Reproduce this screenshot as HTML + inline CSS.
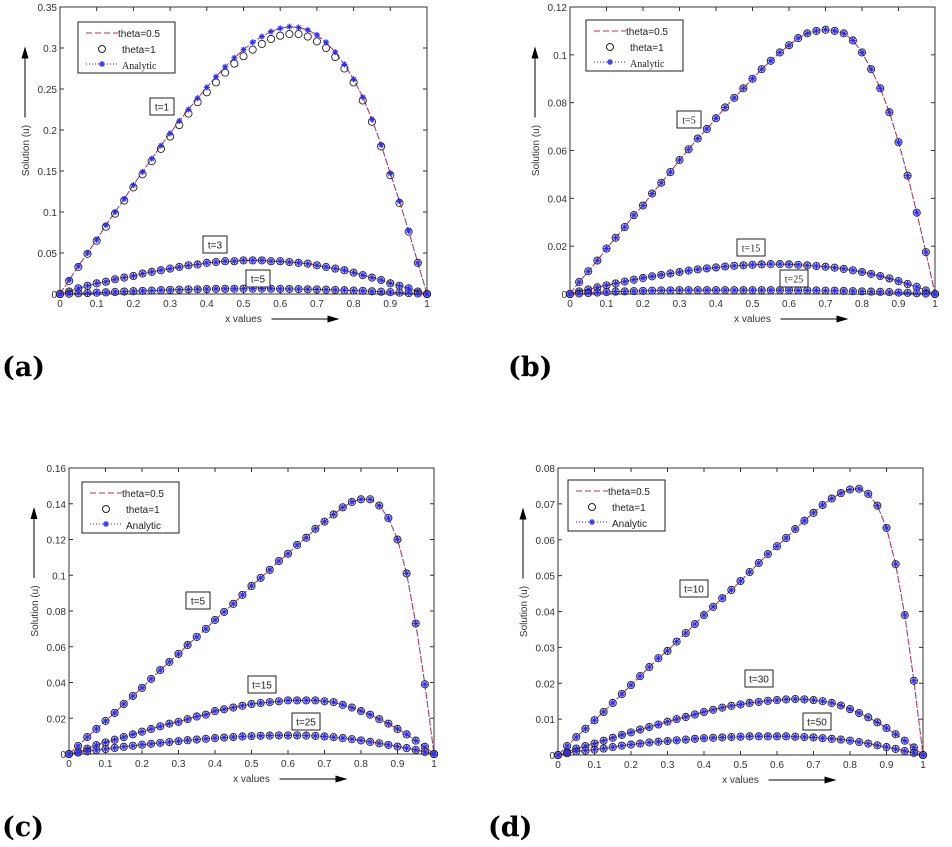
<!DOCTYPE html>
<html><head><meta charset="utf-8"><style>
body{margin:0;background:#fff;width:952px;height:847px;overflow:hidden;font-family:"Liberation Sans",sans-serif}
svg{position:absolute;left:0;top:0}
.pl{position:absolute;font-family:"DejaVu Serif","Liberation Serif",serif;font-weight:bold;font-size:27px;color:#000}
</style></head><body>
<svg id="chart" width="952" height="847"></svg>
<div class="pl" style="left:2px;top:352px">(a)</div>
<div class="pl" style="left:508px;top:352px">(b)</div>
<div class="pl" style="left:2px;top:812px">(c)</div>
<div class="pl" style="left:488px;top:812px">(d)</div>
<script>
const xCats=[0,.025,.05,.075,.1,.125,.15,.175,.2,.225,.25,.275,.3,.325,.35,.375,.4,.425,.45,.475,.5,.525,.55,.575,.6,.625,.65,.675,.7,.725,.75,.775,.8,.825,.85,.875,.9,.925,.95,.975,1];
const xTicks=[0,.1,.2,.3,.4,.5,.6,.7,.8,.9,1];
const xTickLabels=["0","0.1","0.2","0.3","0.4","0.5","0.6","0.7","0.8","0.9","1"];
// panel a
const aT1=[0,.017,.034,.05,.066,.084,.1,.116,.133,.149,.165,.181,.196,.211,.225,.239,.252,.265,.277,.288,.298,.307,.314,.32,.324,.326,.325,.322,.316,.307,.295,.28,.262,.24,.213,.182,.147,.113,.077,.038,0];
const aT1Theta1=[0,.016,.033,.049,.065,.082,.098,.114,.13,.146,.162,.177,.192,.206,.22,.234,.246,.258,.27,.281,.29,.298,.305,.311,.315,.317,.317,.314,.308,.3,.289,.275,.258,.236,.21,.18,.145,.111,.076,.038,0];
const aT3=[0,.003,.007,.01,.013,.015,.018,.02,.022,.025,.027,.029,.031,.033,.035,.036,.038,.039,.04,.04,.041,.041,.041,.04,.04,.039,.038,.037,.035,.033,.031,.029,.026,.023,.02,.017,.013,.01,.007,.003,0];
const aT5=[0,.0003,.0008,.0012,.0016,.002,.0025,.003,.0034,.0038,.0042,.0046,.005,.0053,.0056,.0058,.006,.0062,.0063,.0064,.0065,.0065,.0065,.0064,.0063,.0062,.006,.0058,.0056,.0053,.005,.0046,.0042,.0038,.0033,.0028,.0022,.0017,.0011,.0006,0];
const aYTicks=[0,.05,.1,.15,.2,.25,.3,.35];
const aYLabels=["0","0.05","0.1","0.15","0.2","0.25","0.3","0.35"];
// panel b
const bT5=[0,.005,.0095,.014,.019,.0235,.028,.033,.037,.042,.0465,.051,.056,.0605,.065,.069,.0735,.078,.082,.086,.09,.094,.0975,.101,.104,.107,.109,.11,.1105,.11,.109,.106,.101,.094,.086,.076,.0635,.0495,.034,.0175,0];
const bT15=[0,.0011,.0019,.0028,.0036,.0044,.0052,.006,.0067,.0074,.008,.0086,.0092,.0098,.0103,.0107,.0111,.0115,.0118,.012,.0122,.0124,.0125,.0125,.0124,.0122,.012,.0117,.0114,.011,.0105,.0099,.0092,.0084,.0075,.0065,.0054,.0042,.003,.0015,0];
const bT25=[0,.0002,.0004,.0006,.0008,.001,.0011,.0012,.0013,.0014,.0015,.0015,.0016,.0016,.0016,.0016,.0016,.0016,.0016,.0016,.0016,.0016,.0016,.0016,.0016,.0015,.0015,.0015,.0014,.0014,.0013,.0012,.0011,.001,.0009,.0008,.0006,.0005,.0003,.0002,0];
const bYTicks=[0,.02,.04,.06,.08,.1,.12];
const bYLabels=["0","0.02","0.04","0.06","0.08","0.1","0.12"];
// panel c
const cT5=[0,.0045,.0095,.014,.0185,.023,.028,.0325,.037,.042,.047,.0515,.056,.061,.0655,.07,.075,.0795,.084,.089,.094,.0985,.103,.108,.112,.117,.121,.126,.13,.134,.138,.141,.1425,.1425,.139,.132,.12,.101,.073,.039,0];
const cT15=[0,.001,.003,.005,.0065,.008,.0095,.011,.0125,.014,.0155,.017,.018,.0195,.021,.022,.024,.025,.026,.027,.028,.0285,.029,.0295,.03,.03,.03,.03,.0295,.029,.0275,.026,.024,.022,.0195,.017,.014,.011,.0075,.004,0];
const cT25=[0,.0008,.0015,.0022,.0028,.0034,.004,.0046,.0052,.0057,.0062,.0067,.0072,.0077,.0081,.0085,.0089,.0092,.0095,.0098,.01,.0102,.0103,.0104,.0104,.0104,.0103,.0101,.0098,.0094,.0089,.0083,.0076,.0068,.006,.0051,.0042,.0033,.0023,.0012,0];
const cYTicks=[0,.02,.04,.06,.08,.1,.12,.14,.16];
const cYLabels=["0","0.02","0.04","0.06","0.08","0.1","0.12","0.14","0.16"];
// panel d
const dT10=[0,.0025,.005,.0073,.0097,.012,.0145,.017,.0195,.022,.0245,.027,.029,.0316,.034,.0365,.039,.0413,.0437,.046,.0485,.051,.0535,.056,.0582,.0605,.063,.0653,.0675,.0697,.0715,.073,.074,.0742,.0728,.0695,.0633,.0532,.039,.0207,0];
const dT30=[0,.0008,.0018,.0025,.0032,.004,.0048,.0056,.0063,.0071,.0078,.0085,.0093,.01,.0106,.0113,.012,.0126,.0132,.0137,.0141,.0145,.0148,.0151,.0153,.0155,.0156,.0155,.0153,.015,.0145,.0138,.0128,.0117,.0105,.0091,.0075,.0058,.004,.0021,0];
const dT50=[0,.0005,.001,.0012,.0015,.0018,.0022,.0026,.0029,.0032,.0035,.0037,.0039,.0041,.0043,.0045,.0047,.0048,.0049,.005,.0051,.0052,.0052,.0052,.0052,.0052,.0051,.005,.0049,.0047,.0045,.0043,.004,.0036,.0032,.0027,.0022,.0017,.0011,.0006,0];
const dYTicks=[0,.01,.02,.03,.04,.05,.06,.07,.08];
const dYLabels=["0","0.01","0.02","0.03","0.04","0.05","0.06","0.07","0.08"];

const NS="http://www.w3.org/2000/svg";
const svg=document.getElementById('chart');
function mk(tag,attrs,parent){const e=document.createElementNS(NS,tag);for(const k in attrs)e.setAttribute(k,attrs[k]);(parent||svg).appendChild(e);return e;}

const panels=[
 {id:'a',x0:60,x1:427,yTop:7,yBot:294,ymax:.35,yt:aYTicks,yl:aYLabels,
  series:[{name:'t=1',v:aT1,c:aT1Theta1},{name:'t=3',v:aT3,c:aT3},{name:'t=5',v:aT5,c:aT5}],
  labels:[[150,98,'t=1'],[203,236,'t=3'],[246,270,'t=5']],legend:[78,22],serifLegend:true},
 {id:'b',x0:570,x1:935,yTop:7,yBot:294,ymax:.12,yt:bYTicks,yl:bYLabels,
  series:[{name:'t=5',v:bT5,c:bT5},{name:'t=15',v:bT15,c:bT15},{name:'t=25',v:bT25,c:bT25}],
  labels:[[677,111,'t=5'],[737,239,'t=15'],[780,270,'t=25']],legend:[586,20],serifLegend:true,serifLabels:true},
 {id:'c',x0:69,x1:434,yTop:468,yBot:754,ymax:.16,yt:cYTicks,yl:cYLabels,
  series:[{name:'t=5',v:cT5,c:cT5},{name:'t=15',v:cT15,c:cT15},{name:'t=25',v:cT25,c:cT25}],
  labels:[[186,592,'t=5'],[248,676,'t=15'],[292,713,'t=25']],legend:[82,482]},
 {id:'d',x0:558,x1:923,yTop:468,yBot:755,ymax:.08,yt:dYTicks,yl:dYLabels,
  series:[{name:'t=10',v:dT10,c:dT10},{name:'t=30',v:dT30,c:dT30},{name:'t=50',v:dT50,c:dT50}],
  labels:[[680,580,'t=10'],[745,670,'t=30'],[803,713,'t=50']],legend:[568,480]}
];

function star(g,x,y){
  const s=3;
  mk('line',{x1:x-s,y1:y,x2:x+s,y2:y,stroke:'#2a2aff','stroke-width':1.2},g);
  mk('line',{x1:x,y1:y-s,x2:x,y2:y+s,stroke:'#2a2aff','stroke-width':1.2},g);
  mk('line',{x1:x-2.1,y1:y-2.1,x2:x+2.1,y2:y+2.1,stroke:'#2a2aff','stroke-width':1},g);
  mk('line',{x1:x-2.1,y1:y+2.1,x2:x+2.1,y2:y-2.1,stroke:'#2a2aff','stroke-width':1},g);
}

panels.forEach(p=>{
  const X=v=>p.x0+v*(p.x1-p.x0);
  const Y=v=>p.yBot-v/p.ymax*(p.yBot-p.yTop);
  const g=mk('g',{});
  
  
  const box=mk('rect',{x:p.x0,y:p.yTop,width:p.x1-p.x0,height:p.yBot-p.yTop,fill:'none',stroke:'#333','stroke-width':1},g);
  
  
  xTicks.forEach((t,i)=>{
    const x=X(t);
    mk('line',{x1:x,y1:p.yBot,x2:x,y2:p.yBot-4,stroke:'#333'},g);
    mk('line',{x1:x,y1:p.yTop,x2:x,y2:p.yTop+4,stroke:'#333'},g);
    const tx=mk('text',{x:x,y:p.yBot+13,'font-size':10,'text-anchor':'middle',fill:'#333'},g);
    tx.textContent=xTickLabels[i];
    
    
  });
  p.yt.forEach((t,i)=>{
    const y=Y(t);
    mk('line',{x1:p.x0,y1:y,x2:p.x0+4,y2:y,stroke:'#333'},g);
    mk('line',{x1:p.x1,y1:y,x2:p.x1-4,y2:y,stroke:'#333'},g);
    const ty=mk('text',{x:p.x0-3,y:y+4,'font-size':10,'text-anchor':'end',fill:'#333'},g);
    ty.textContent=p.yl[i];
    
    
  });
  // axis titles
  const mid=(p.yTop+p.yBot)/2, tx0=p.x0-31, ax=p.x0-35;
  const yt=mk('text',{x:tx0,y:mid,'font-size':10,'text-anchor':'middle',fill:'#333',transform:`rotate(-90 ${tx0} ${mid})`},g);
  yt.textContent='Solution (u)';
  
  
  mk('line',{x1:ax,y1:mid-33,x2:ax,y2:mid-96,stroke:'#000','stroke-width':1},g);
  mk('path',{d:`M${ax-3.5} ${mid-92} L${ax} ${mid-104} L${ax+3.5} ${mid-92} Z`,fill:'#000'},g);
  const xm=(p.x0+p.x1)/2;
  const xt=mk('text',{x:xm,y:p.yBot+28,'font-size':10,'text-anchor':'middle',fill:'#333'},g);
  xt.textContent='x values';
  
  
  mk('line',{x1:xm+28,y1:p.yBot+25,x2:xm+92,y2:p.yBot+25,stroke:'#000'},g);
  mk('path',{d:`M${xm+84} ${p.yBot+21.5} L${xm+96} ${p.yBot+25} L${xm+84} ${p.yBot+28.5} Z`,fill:'#000'},g);
  // series
  p.series.forEach(s=>{
    const sg=mk('g',{},g);
    
    
    const pts=xCats.map((x,i)=>X(x).toFixed(2)+','+Y(s.v[i]).toFixed(2)).join(' ');
    mk('polyline',{points:pts,fill:'none',stroke:'#1a1aff','stroke-width':1,'stroke-dasharray':'1 2'},sg);
    mk('polyline',{points:pts,fill:'none',stroke:'#c0304a','stroke-width':1,'stroke-dasharray':'6 3'},sg);
    xCats.forEach((x,i)=>{
      const c=mk('circle',{cx:X(x),cy:Y(s.c[i]),r:3.6,fill:'none',stroke:'#222','stroke-width':0.9},sg);
      
      
    });
    xCats.forEach((x,i)=>star(sg,X(x),Y(s.v[i])));
  });
  // curve labels
  p.labels.forEach(l=>{
    const w=l[2].length>3?28:24;
    const lb=mk('g',{},g);
    
    
    mk('rect',{x:l[0],y:l[1],width:w,height:17,fill:'#fff',stroke:'#222','stroke-width':1},lb);
    const t=mk('text',{x:l[0]+w/2,y:l[1]+12.5,'font-size':10,'text-anchor':'middle',fill:'#222','font-family':p.serifLabels?'Liberation Serif, serif':'Liberation Sans, sans-serif'},lb);
    t.textContent=l[2];
  });
  // legend
  const [lx,ly]=p.legend;
  const lg=mk('g',{},g);
  
  
  mk('rect',{x:lx,y:ly,width:97,height:51,fill:'#fff',stroke:'#222','stroke-width':1},lg);
  mk('line',{x1:lx+8,y1:ly+11,x2:lx+40,y2:ly+11,stroke:'#c0304a','stroke-dasharray':'6 3'},lg);
  mk('circle',{cx:lx+24,cy:ly+27,r:3.5,fill:'none',stroke:'#222'},lg);
  mk('line',{x1:lx+8,y1:ly+42,x2:lx+40,y2:ly+42,stroke:'#1a1aff','stroke-dasharray':'1 2'},lg);
  star(lg,lx+24,ly+42);
  const names=['theta=0.5','theta=1','Analytic'];
  names.forEach((n,i)=>{
    const t=mk('text',{x:lx+(i==0?40:44),y:ly+15+i*16,'font-size':10,fill:'#222','font-family':(p.serifLegend&&i==2)?'Liberation Serif, serif':'Liberation Sans, sans-serif'},lg);
    t.textContent=n;
    
    
  });
});
</script>
</body></html>
